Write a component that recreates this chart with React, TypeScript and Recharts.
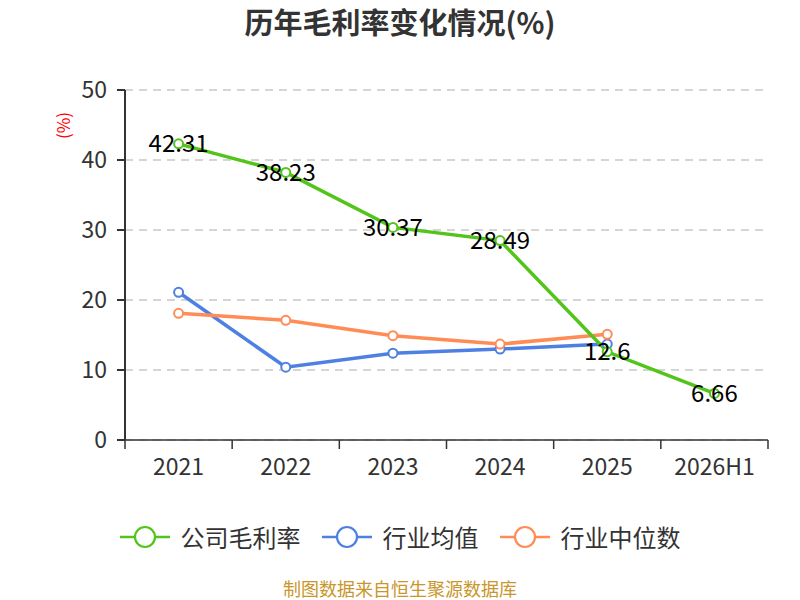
import React from 'react';
import { LineChart, Line, XAxis, YAxis, CartesianGrid, LabelList } from 'recharts';

const categories = ['2021', '2022', '2023', '2024', '2025', '2026H1'];
const companyMargin = [42.31, 38.23, 30.37, 28.49, 12.6, 6.66];
const industryAvg = [21.1, 10.4, 12.4, 13.0, 13.7, null];
const industryMedian = [18.1, 17.1, 14.9, 13.7, 15.1, null];
const yTicks = [0, 10, 20, 30, 40, 50];

const seriesNames = ['公司毛利率', '行业均值', '行业中位数'];
const seriesColors = ['#52c41a', '#4e7fe2', '#ff8c55'];

const data = categories.map((c, i) => ({
  name: c,
  company: companyMargin[i],
  avg: industryAvg[i],
  median: industryMedian[i],
}));

const FONT = '"Noto Sans CJK SC", "Noto Sans", sans-serif';
const PLOT_LEFT = 125;
const PLOT_RIGHT = 768;
const BAND = (PLOT_RIGHT - PLOT_LEFT) / categories.length;

const XTick = (props: any) => {
  const { x, y, payload, index } = props;
  const left = x - BAND / 2;
  const right = x + BAND / 2;
  return (
    <g>
      <line x1={left} x2={left} y1={y} y2={y + 9} stroke="#333" strokeWidth={1.5} />
      {index === categories.length - 1 && (
        <line x1={right} x2={right} y1={y} y2={y + 9} stroke="#333" strokeWidth={1.5} />
      )}
      <text x={x} y={y + 25} textAnchor="middle" dominantBaseline="central" fontSize={23} fill="#333" fontFamily={FONT}>
        {payload.value}
      </text>
    </g>
  );
};

const ValueLabel = (props: any) => {
  const { x, y, value } = props;
  if (value == null) return null;
  return (
    <text x={x} y={y - 2} textAnchor="middle" dominantBaseline="central" fontSize={24} fill="#000" fontFamily={FONT}>
      {value}
    </text>
  );
};

const LegendBlock = () => (
  <div style={{ position: 'absolute', top: 521, left: 0, width: 800, display: 'flex', justifyContent: 'center', alignItems: 'center', fontFamily: FONT, fontSize: 24, color: '#333', lineHeight: '32px' }}>
    {seriesNames.map((n, i) => (
      <div key={n} style={{ display: 'flex', alignItems: 'center', marginRight: i < 2 ? 21 : 0 }}>
        <svg width={50} height={26} style={{ marginRight: 11 }}>
          <line x1={0} x2={50} y1={13} y2={13} stroke={seriesColors[i]} strokeWidth={2.5} />
          <circle cx={25} cy={13} r={10} fill="#fff" stroke={seriesColors[i]} strokeWidth={2.2} />
        </svg>
        <span>{n}</span>
      </div>
    ))}
  </div>
);

export default function App() {
  const dotStyle = (c: string) => ({ r: 4.5, fill: '#fff', stroke: c, strokeWidth: 2 });
  return (
    <div style={{ position: 'absolute', left: 0, top: 0, width: 800, height: 600, background: '#fff', fontFamily: FONT }}>
      <LineChart
        width={800}
        height={600}
        data={data}
        margin={{ top: 90, right: 32, bottom: 120, left: 0 }}
        style={{ position: 'absolute', left: 0, top: 0 }}
      >
        <CartesianGrid vertical={false} stroke="#c8c8c8" strokeDasharray="8 6" strokeWidth={1.3} />
        <XAxis
          dataKey="name"
          scale="band"
          height={40}
          axisLine={{ stroke: '#333', strokeWidth: 1.5 }}
          tickLine={false}
          tickSize={0}
          tickMargin={0}
          tick={<XTick />}
          interval={0}
        />
        <YAxis
          width={125}
          domain={[0, 50]}
          ticks={yTicks}
          axisLine={{ stroke: '#333', strokeWidth: 2 }}
          tickLine={{ stroke: '#333', strokeWidth: 2 }}
          tickSize={8}
          tickMargin={10}
          tick={{ fontSize: 23, fill: '#333', fontFamily: FONT }}
        />
        <Line
          dataKey="avg"
          name={seriesNames[1]}
          stroke={seriesColors[1]}
          strokeWidth={3.5}
          dot={dotStyle(seriesColors[1])}
          isAnimationActive={false}
        />
        <Line
          dataKey="median"
          name={seriesNames[2]}
          stroke={seriesColors[2]}
          strokeWidth={3.5}
          dot={dotStyle(seriesColors[2])}
          isAnimationActive={false}
        />
        <Line
          dataKey="company"
          name={seriesNames[0]}
          stroke={seriesColors[0]}
          strokeWidth={3.5}
          dot={dotStyle(seriesColors[0])}
          isAnimationActive={false}
        >
          <LabelList dataKey="company" content={<ValueLabel />} />
        </Line>
      </LineChart>
      <div style={{ position: 'absolute', top: 1, width: 800, textAlign: 'center', fontSize: 29, fontWeight: 'bold', color: '#333', lineHeight: '40px' }}>
        历年毛利率变化情况(%)
      </div>
      <div style={{ position: 'absolute', left: 50, top: 110, width: 26, height: 30, display: 'flex', alignItems: 'center', justifyContent: 'center' }}>
        <div style={{ transform: 'rotate(-90deg)', color: '#ff0000', fontSize: 17, whiteSpace: 'nowrap' }}>(%)</div>
      </div>
      <LegendBlock />
      <div style={{ position: 'absolute', top: 578, width: 800, textAlign: 'center', fontSize: 18, color: '#c9962b', lineHeight: '20px' }}>
        制图数据来自恒生聚源数据库
      </div>
    </div>
  );
}
